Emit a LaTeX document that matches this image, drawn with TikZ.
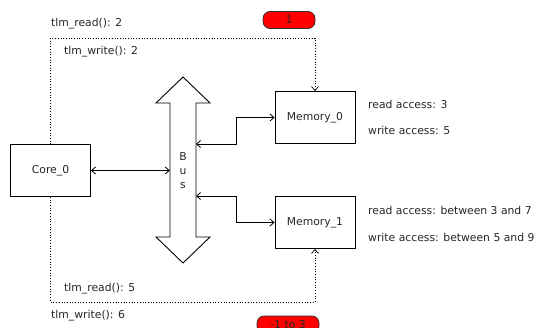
\documentclass[tikz,border=0pt]{standalone}
\usepackage{fontspec}
\setmainfont{DejaVu Sans}
\usetikzlibrary{arrows.meta}
\begin{document}
\begin{tikzpicture}[x=1pt,y=-1pt,
  every node/.style={font=\fontsize{10.8}{12}\selectfont, text=black!85},
  box/.style={draw, line width=0.9pt, minimum width=80pt, minimum height=52pt, inner sep=0pt},
  pill/.style={draw=black!80, fill=red, rounded corners=7pt, line width=0.8pt, minimum height=17pt, inner sep=0pt},
  lbl/.style={anchor=west, inner sep=0pt},
  conn/.style={line width=0.8pt, {Straight Barb[length=4pt,width=7pt]}-{Straight Barb[length=4pt,width=7pt]}},
  dotconn/.style={line width=0.7pt, dotted, -{Straight Barb[length=4pt,width=7pt]}},
]
\useasboundingbox (0,0) rectangle (540,327);
% bus
\draw[line width=0.9pt] (183,77) -- (210,103) -- (196,103) -- (196,237) -- (210,237) -- (183,263)
  -- (156,237) -- (170,237) -- (170,103) -- (156,103) -- cycle;
\node[inner sep=0pt, minimum width=26pt, minimum height=134pt] (bus) at (183,170) {};
\node[align=center, font=\fontsize{10.8}{14}\selectfont] (bustxt) at (183,171) {B\\u\\s};
% boxes
\node[box] (core) at (50.5,170.5) {Core\_0};
\node[box] (mem0) at (315,117.5) {Memory\_0};
\node[box] (mem1) at (315,222.5) {Memory\_1};
% connectors
\draw[conn] (core.east) -- (bus.west |- core.east);
\coordinate (b0) at (196,144);
\coordinate (b1) at (196,196);
\draw[conn] (b0) -- (236,144) |- (mem0.west);
\draw[conn] (b1) -- (236,196) |- (mem1.west);
% dotted
\draw[dotconn] (core.north) -- (50.5,38) -| (mem0.north);
\draw[dotconn] (core.south) -- (50.5,302) -| (mem1.south);
% labels
\node[lbl] (r0) at (51,24) {tlm\_read(): 2};
\node[lbl] (w0) at (64,52) {tlm\_write(): 2};
\node[lbl] (r1) at (64,289) {tlm\_read(): 5};
\node[lbl] (w1) at (51,316) {tlm\_write(): 6};
\node[lbl] (ra0) at (368,104) {read access: 3};
\node[lbl] (wa0) at (368,130) {write access: 5};
\node[lbl] (ra1) at (368,210) {read access: between 3 and 7};
\node[lbl] (wa1) at (368,237) {write access: between 5 and 9};
% pills
\node[pill, minimum width=52pt] (p0) at (289,20) {1};
\node[pill, minimum width=62pt] (p1) at (288,324.5) {-1 to 3};
\end{tikzpicture}
\end{document}
